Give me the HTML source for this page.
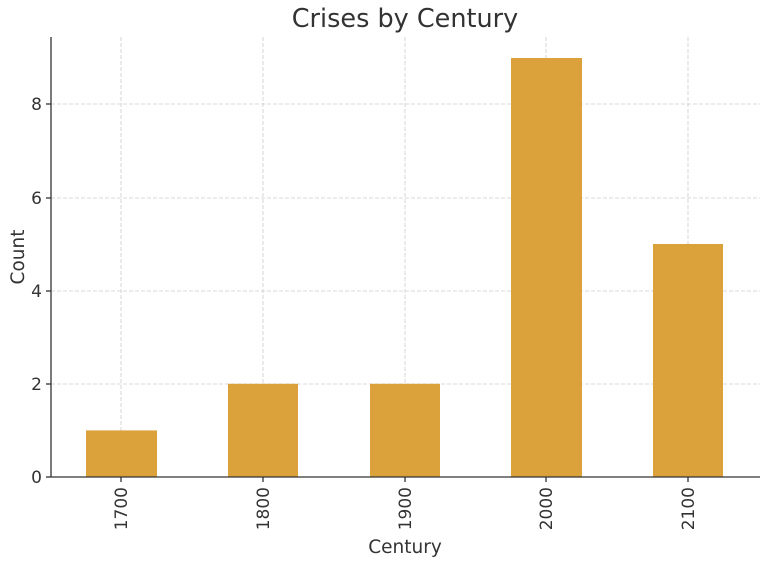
<!DOCTYPE html>
<html><head><meta charset="utf-8"><style>body{margin:0;background:#fff}</style></head><body>
<svg width="768" height="564" xmlns="http://www.w3.org/2000/svg" font-family="DejaVu Sans, Liberation Sans, sans-serif" fill="#333">
<rect width="768" height="564" fill="#fff"/>
<g stroke="#cccccc" stroke-width="0.8" stroke-dasharray="4,2">
<line x1="51" x2="760" y1="384" y2="384"/><line x1="51" x2="760" y1="291" y2="291"/>
<line x1="51" x2="760" y1="198" y2="198"/><line x1="51" x2="760" y1="104" y2="104"/>
<line x1="121" x2="121" y1="37" y2="477"/><line x1="263" x2="263" y1="37" y2="477"/>
<line x1="405" x2="405" y1="37" y2="477"/><line x1="546" x2="546" y1="37" y2="477"/>
<line x1="688" x2="688" y1="37" y2="477"/>
</g>
<g fill="#DBA13A">
<rect x="86" y="430.4" width="71" height="46.6"/>
<rect x="228" y="383.8" width="70" height="93.2"/>
<rect x="370" y="383.8" width="70" height="93.2"/>
<rect x="511" y="58" width="71" height="419"/>
<rect x="653" y="244" width="70" height="233"/>
</g>
<g stroke="#333" stroke-width="1.3">
<line x1="51" x2="51" y1="37" y2="477"/><line x1="51" x2="760" y1="477" y2="477"/>
<line x1="46" x2="51" y1="477" y2="477"/><line x1="46" x2="51" y1="384" y2="384"/>
<line x1="46" x2="51" y1="291" y2="291"/><line x1="46" x2="51" y1="198" y2="198"/>
<line x1="46" x2="51" y1="104" y2="104"/>
<line x1="121" x2="121" y1="477" y2="482"/><line x1="263" x2="263" y1="477" y2="482"/>
<line x1="405" x2="405" y1="477" y2="482"/><line x1="546" x2="546" y1="477" y2="482"/>
<line x1="688" x2="688" y1="477" y2="482"/>
</g>
<g font-size="17" text-anchor="end">
<text x="42" y="483">0</text><text x="42" y="390">2</text><text x="42" y="297">4</text>
<text x="42" y="204">6</text><text x="42" y="110">8</text>
</g>
<g font-size="17" text-anchor="end">
<text transform="translate(127,487) rotate(-90)">1700</text>
<text transform="translate(269,487) rotate(-90)">1800</text>
<text transform="translate(411,487) rotate(-90)">1900</text>
<text transform="translate(552,487) rotate(-90)">2000</text>
<text transform="translate(694,487) rotate(-90)">2100</text>
</g>
<text x="405" y="553" font-size="18.5" text-anchor="middle">Century</text>
<text transform="translate(24,257) rotate(-90)" font-size="18.5" text-anchor="middle">Count</text>
<text x="405" y="27" font-size="25.5" text-anchor="middle">Crises by Century</text>
</svg>
</body></html>
